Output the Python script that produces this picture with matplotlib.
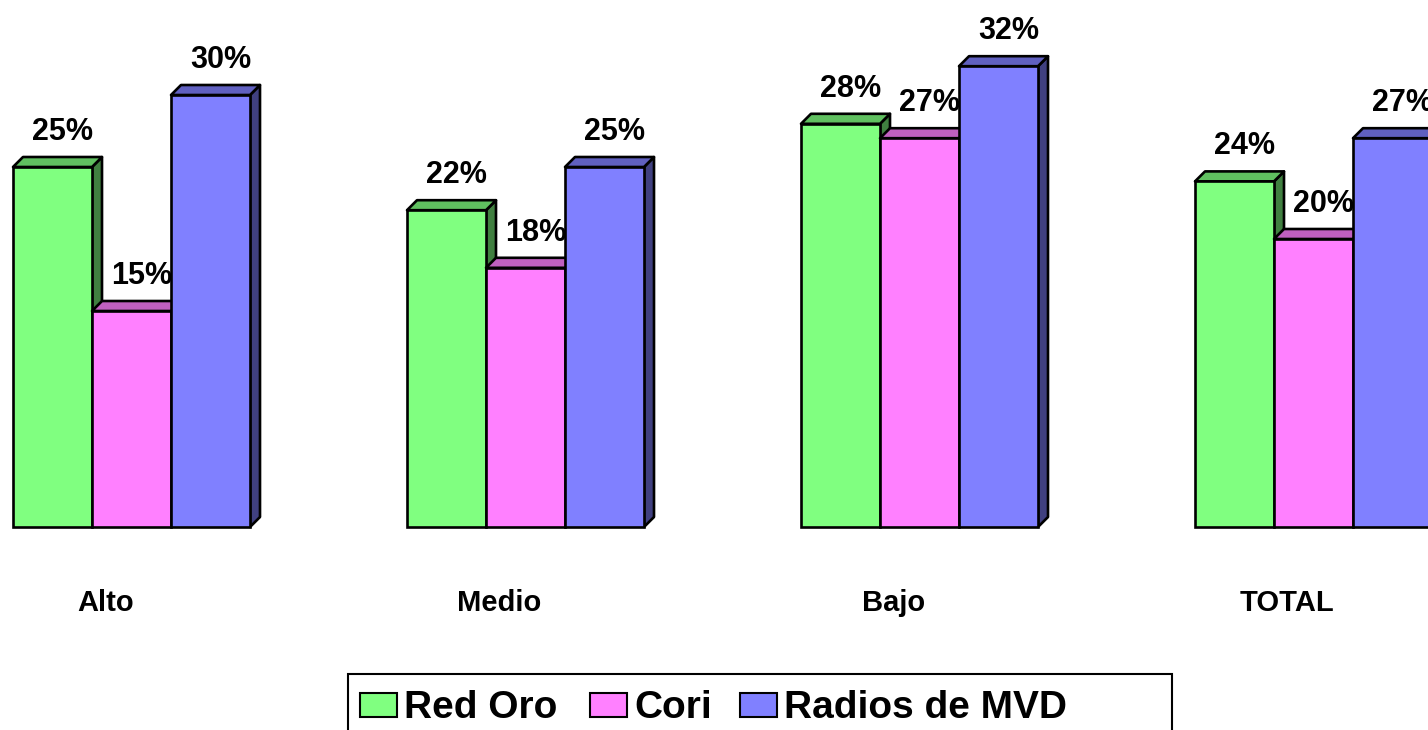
import matplotlib.pyplot as plt
from matplotlib.patches import Polygon, Rectangle

plt.rcParams['font.family'] = ['Liberation Sans', 'DejaVu Sans']

categories = ['Alto', 'Medio', 'Bajo', 'TOTAL']
series = ['Red Oro', 'Cori', 'Radios de MVD']
red_oro = [25, 22, 28, 24]
cori = [15, 18, 27, 20]
radios = [30, 25, 32, 27]

values = [red_oro, cori, radios]
front_cols = ['#80FF80', '#FF80FF', '#8080FF']
top_cols = ['#60C060', '#C060C0', '#6060C0']
side_cols = ['#408040', '#804080', '#404080']

W, H = 1428, 730
fig = plt.figure(figsize=(W / 100, H / 100), dpi=100)
ax = fig.add_axes([0, 0, 1, 1])
ax.axis('off')

# pixel mapping: group spacing 394px, 14.4px per percent, baseline at y=527
px_x = 394.0
px_y = 14.4
ax.set_xlim(-131.5 / px_x, (W - 131.5) / px_x)
ax.set_ylim((527 - H) / px_y, 527 / px_y)

bw = 79 / px_x
dx = 10 / px_x
dy = 10 / px_y
lw = 1.9

for i, cat in enumerate(categories):
    left0 = i - 1.5 * bw
    for j in range(3):
        v = values[j][i]
        x0 = left0 + j * bw
        x1 = x0 + bw
        # side face
        ax.add_patch(Polygon([(x1, 0), (x1 + dx, dy), (x1 + dx, v + dy), (x1, v)],
                             closed=True, fc=side_cols[j], ec='black', lw=lw, joinstyle='round'))
        # top face
        ax.add_patch(Polygon([(x0, v), (x0 + dx, v + dy), (x1 + dx, v + dy), (x1, v)],
                             closed=True, fc=top_cols[j], ec='black', lw=lw, joinstyle='round'))
        # front face
        ax.add_patch(Rectangle((x0, 0), bw, v, fc=front_cols[j], ec='black', lw=lw))
        ax.text(x0 + bw / 2 + dx, v + 27 / px_y, f'{v}%', ha='center', va='baseline',
                fontsize=22, fontweight='bold')
    ax.text(i - 26 / px_x, -84 / px_y, cat, ha='center', va='baseline',
            fontsize=21, fontweight='bold')

# legend box
fig.patches.append(Rectangle((348 / W, 1 - 740 / H), (1172 - 348) / W, 66 / H,
                             transform=fig.transFigure, fc='white', ec='black', lw=1.5))
legend_x = [360, 590, 740]
for j, name in enumerate(series):
    fig.patches.append(Rectangle((legend_x[j] / W, 1 - 717 / H), 37 / W, 24 / H,
                                 transform=fig.transFigure, fc=front_cols[j], ec='black', lw=1.5))
    fig.text((legend_x[j] + 44) / W, 1 - 718 / H, name, ha='left', va='baseline',
             fontsize=28, fontweight='bold')

fig.savefig('out.png', dpi=100)
